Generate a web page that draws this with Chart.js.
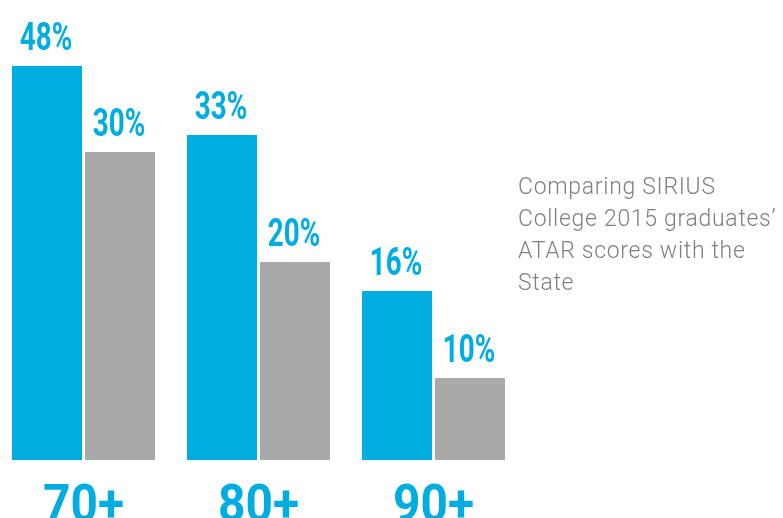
<!DOCTYPE html>
<html>
<head>
<meta charset="utf-8">
<script src="https://cdn.jsdelivr.net/npm/chart.js@4"></script>
<style>
  html, body { margin: 0; padding: 0; background: #fff; overflow: hidden; }
  #wrap { position: relative; width: 783px; height: 518px; overflow: hidden; }
  #chartBox { position: absolute; left: -4px; top: 0; width: 525px; height: 518px; }
  #note {
    position: absolute; left: 518px; top: 171px; width: 270px;
    font-family: Roboto, "Open Sans", sans-serif; font-weight: 300;
    font-size: 23px; line-height: 32px; letter-spacing: 0.7px; color: #808080;
  }
</style>
</head>
<body>
<div id="wrap">
  <div id="chartBox"><canvas id="chart" width="525" height="518"></canvas></div>
  <div id="note">Comparing SIRIUS<br>College 2015 graduates’<br>ATAR scores with the<br>State</div>
</div>
<script>
// ATAR bands
const categories = ['70+', '80+', '90+'];

// bar heights as drawn in the graphic (not to scale with the printed %)
const collegeHeights = [39.4, 32.5, 16.9];
const stateHeights = [30.8, 19.8, 8.2];

// printed value labels
const collegeLabels = ['48%', '33%', '16%'];
const stateLabels = ['30%', '20%', '10%'];

const BLUE = '#00ade1';
const GREY = '#a9a9a9';

// value labels above bars, condensed look
const valueLabels = {
  id: 'valueLabels',
  afterDatasetsDraw(chart) {
    const ctx = chart.ctx;
    chart.data.datasets.forEach((ds, i) => {
      const meta = chart.getDatasetMeta(i);
      meta.data.forEach((bar, j) => {
        ctx.save();
        ctx.translate(bar.x - 1, bar.y - 16);
        ctx.scale(0.73, 1);
        ctx.fillStyle = BLUE;
        ctx.font = 'bold 38px Roboto';
        ctx.textAlign = 'center';
        ctx.textBaseline = 'alphabetic';
        ctx.fillText(ds.valueLabels[j], 0, 0);
        ctx.restore();
      });
    });
  }
};

// big category labels under each group, running off the bottom edge
const categoryLabels = {
  id: 'categoryLabels',
  afterDraw(chart) {
    const ctx = chart.ctx;
    const xScale = chart.scales.x;
    chart.data.labels.forEach((lab, i) => {
      ctx.save();
      ctx.translate(xScale.getPixelForValue(i), 521);
      ctx.scale(0.92, 1);
      ctx.fillStyle = BLUE;
      ctx.font = 'bold 52px Roboto';
      ctx.textAlign = 'center';
      ctx.textBaseline = 'alphabetic';
      ctx.fillText(lab, 0, 0);
      ctx.restore();
    });
  }
};

new Chart(document.getElementById('chart'), {
  type: 'bar',
  data: {
    labels: categories,
    datasets: [
      { label: 'SIRIUS College', data: collegeHeights, valueLabels: collegeLabels, backgroundColor: BLUE },
      { label: 'State', data: stateHeights, valueLabels: stateLabels, backgroundColor: GREY }
    ]
  },
  options: {
    responsive: false,
    animation: false,
    devicePixelRatio: 1,
    layout: { padding: { top: 0, bottom: 58, left: 0, right: 0 } },
    datasets: { bar: { categoryPercentage: 146 / 175, barPercentage: 70 / 73, borderWidth: 0 } },
    scales: {
      x: { display: false },
      y: { display: false, min: 0, max: 46 }
    },
    plugins: { legend: { display: false }, tooltip: { enabled: false } }
  },
  plugins: [valueLabels, categoryLabels]
});
</script>
</body>
</html>
